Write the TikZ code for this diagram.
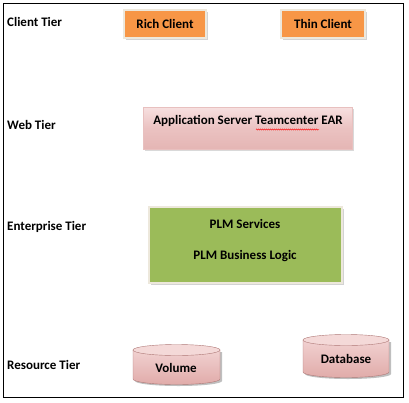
\documentclass[tikz,border=0pt]{standalone}
\usepackage{fontspec}
\setmainfont{Carlito}
\usetikzlibrary{shadows,decorations.pathmorphing}
\definecolor{orangefill}{HTML}{F79646}
\definecolor{greenfill}{HTML}{9BBB59}
\definecolor{pinkdark}{HTML}{D99694}
\definecolor{pinklight}{HTML}{F7E0E0}
\definecolor{framecol}{HTML}{EDE8DC}
\tikzset{
  tierlabel/.style={anchor=west, inner sep=0pt, font=\bfseries\fontsize{13}{15}\selectfont},
  boxtext/.style={font=\bfseries\fontsize{13}{15}\selectfont},
  clientbox/.style={draw=framecol, line width=1.8pt, fill=orangefill, inner sep=0pt,
    drop shadow={shadow xshift=1.5pt, shadow yshift=-1.5pt, opacity=0.35}},
  webbox/.style={draw=pinkdark!60, line width=0.5pt, inner sep=0pt,
    top color=pinklight, bottom color=pinkdark!70, middle color=pinklight!60!pinkdark,
    drop shadow={shadow xshift=1.5pt, shadow yshift=-1.5pt, opacity=0.3}},
  entbox/.style={draw=framecol, line width=1.8pt, fill=greenfill, inner sep=0pt,
    drop shadow={shadow xshift=1.5pt, shadow yshift=-1.5pt, opacity=0.35}},
  cylbody/.style={draw=pinkdark!80!black, line width=0.4pt, top color=pinklight!80!pinkdark, bottom color=pinkdark!80},
  cyltop/.style={draw=pinkdark!80!black, line width=0.4pt, fill=pinklight!90!pinkdark}
}
\begin{document}
\begin{tikzpicture}[x=1pt,y=-1pt]
\useasboundingbox (0,0) rectangle (409,402);
\draw[line width=0.9pt] (3.5,3.5) rectangle (403.5,397);
% tier labels
\node[tierlabel] (lc) at (7,22) {Client Tier};
\node[tierlabel] (lw) at (7,125) {Web Tier};
\node[tierlabel] (le) at (7,227) {Enterprise Tier};
\node[tierlabel] (lr) at (7,365) {Resource Tier};
% client tier
\node[clientbox, minimum width=82pt, minimum height=28pt, boxtext] (rich) at (165,24) {Rich Client};
\node[clientbox, minimum width=84pt, minimum height=28pt, boxtext] (thin) at (323,24) {Thin Client};
% web tier
\node[webbox, minimum width=209pt, minimum height=42pt] (web) at (248,128) {};
\node[boxtext] (webtxt) at (248,121) {Application Server Teamcenter EAR};
\draw[red, line width=0.4pt, decorate, decoration={snake, amplitude=0.6pt, segment length=2pt}]
  (256,129.5) -- (319,129.5);
% enterprise tier
\node[entbox, minimum width=193pt, minimum height=76pt] (ent) at (245.5,245) {};
\node[boxtext] (plms) at (245,224) {PLM Services};
\node[boxtext] (plmb) at (245,256) {PLM Business Logic};
% resource tier: Volume cylinder
\fill[black, opacity=0.25] (135,352) -- (135,381) arc[start angle=180, end angle=360, x radius=43.5pt, y radius=5pt] -- (222,352) -- cycle;
\draw[cylbody] (133,350) -- (133,379) arc[start angle=180, end angle=360, x radius=43.5pt, y radius=5.5pt] -- (220,350) -- cycle;
\draw[cyltop] (176.5,350) ellipse[x radius=43.5pt, y radius=5.5pt];
\node[boxtext] (voltxt) at (176,368) {Volume};
% Database cylinder
\fill[black, opacity=0.25] (305,342) -- (305,374) arc[start angle=180, end angle=360, x radius=43pt, y radius=5pt] -- (391,342) -- cycle;
\draw[cylbody] (303,340) -- (303,372) arc[start angle=180, end angle=360, x radius=43pt, y radius=5.5pt] -- (389,340) -- cycle;
\draw[cyltop] (346,340) ellipse[x radius=43pt, y radius=5.5pt];
\node[boxtext] (dbtxt) at (346,359) {Database};
\end{tikzpicture}
\end{document}
